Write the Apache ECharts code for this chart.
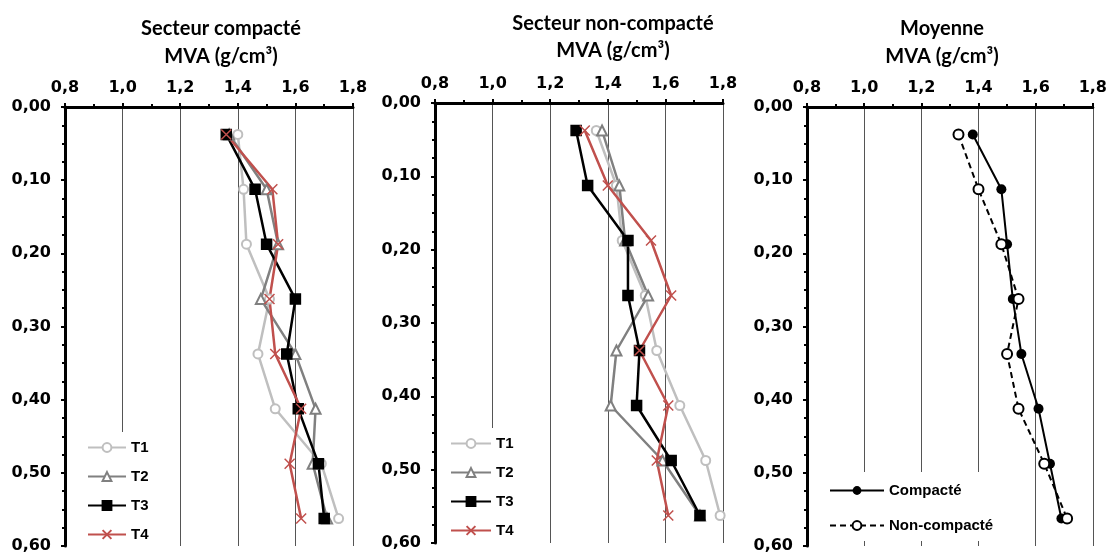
<!DOCTYPE html>
<html>
<head>
<meta charset="utf-8">
<script src="https://cdn.jsdelivr.net/npm/echarts@6/dist/echarts.min.js"></script>
<style>
  html, body { margin: 0; padding: 0; background: #fff; }
  #main { width: 1110px; height: 554px; }
</style>
</head>
<body>
<div id="main"></div>
<script>
// depth of each sample (m), middle of each 7.5 cm layer
var depths = [0.0375, 0.1125, 0.1875, 0.2625, 0.3375, 0.4125, 0.4875, 0.5625];

// Secteur compacté
var compT1 = [1.40, 1.42, 1.43, 1.51, 1.47, 1.53, 1.69, 1.75];
var compT2 = [1.37, 1.50, 1.54, 1.48, 1.60, 1.67, 1.66, 1.71];
var compT3 = [1.36, 1.46, 1.50, 1.60, 1.57, 1.61, 1.68, 1.70];
var compT4 = [1.36, 1.52, 1.54, 1.51, 1.53, 1.62, 1.58, 1.62];

// Secteur non-compacté
var noncT1 = [1.36, 1.43, 1.45, 1.53, 1.57, 1.65, 1.74, 1.79];
var noncT2 = [1.38, 1.44, 1.46, 1.54, 1.43, 1.41, 1.59, 1.72];
var noncT3 = [1.29, 1.33, 1.47, 1.47, 1.51, 1.50, 1.62, 1.72];
var noncT4 = [1.32, 1.40, 1.55, 1.62, 1.51, 1.61, 1.57, 1.61];

// Moyenne
var avgComp = [1.38, 1.48, 1.50, 1.52, 1.55, 1.61, 1.65, 1.69];
var avgNonc = [1.33, 1.40, 1.48, 1.54, 1.50, 1.54, 1.63, 1.71];

var titles = [
  ['Secteur compacté', 'MVA (g/cm³)'],
  ['Secteur non-compacté', 'MVA (g/cm³)'],
  ['Moyenne', 'MVA (g/cm³)']
];

function pairs(vals) {
  return depths.map(function (d, i) { return [vals[i], d]; });
}

var grids = [
  { left: 65, top: 107, width: 288, height: 440 },
  { left: 435, top: 103, width: 288, height: 440 },
  { left: 807, top: 107, width: 288, height: 440 }
];
var titlePos = [
  { x: 221, y1: 29, y2: 57 },
  { x: 613, y1: 24, y2: 51 },
  { x: 942, y1: 29, y2: 57 }
];

var labelFont = { fontFamily: "'DejaVu Sans', sans-serif", fontWeight: 'bold', fontSize: 16, color: '#000' };

var xAxes = grids.map(function (g, i) {
  return {
    type: 'value', gridIndex: i, position: 'top',
    min: 0.8, max: 1.8, interval: 0.2,
    axisLine: { show: true, onZero: false, lineStyle: { color: '#000', width: 3 } },
    axisTick: { show: true, length: 4, lineStyle: { color: '#000', width: 2 } },
    minorTick: { show: true, splitNumber: 2, length: 3, lineStyle: { color: '#000', width: 2 } },
    splitLine: { show: true, lineStyle: { color: '#555', width: 1 } },
    axisLabel: Object.assign({ margin: 11, formatter: function (v) { return v.toFixed(1).replace('.', ','); } }, labelFont)
  };
});

var yAxes = grids.map(function (g, i) {
  return {
    type: 'value', gridIndex: i, inverse: true,
    min: 0, max: 0.6, interval: 0.1,
    axisLine: { show: true, onZero: false, lineStyle: { color: '#000', width: 3 } },
    axisTick: { show: true, length: 4, lineStyle: { color: '#000', width: 2 } },
    minorTick: { show: true, splitNumber: 4, length: 3, lineStyle: { color: '#000', width: 2 } },
    splitLine: { show: false },
    axisLabel: Object.assign({ margin: 14, formatter: function (v) { return v.toFixed(2).replace('.', ','); } }, labelFont)
  };
});

var xMark = 'path://M0,0 L10,10 M10,0 L0,10';

function tSeries(name, vals, idx, color, symbol, size) {
  return {
    name: name, type: 'line', xAxisIndex: idx, yAxisIndex: idx,
    data: pairs(vals),
    symbol: symbol, symbolSize: size,
    lineStyle: { color: color, width: 2.5 },
    itemStyle: { color: color, borderColor: color, borderWidth: 1.5 },
    animation: false
  };
}

var series = [
  tSeries('T1', compT1, 0, '#BFBFBF', 'emptyCircle', 9),
  tSeries('T2', compT2, 0, '#808080', 'emptyTriangle', 10),
  tSeries('T3', compT3, 0, '#000000', 'rect', 10),
  tSeries('T4', compT4, 0, '#C0504D', xMark, 10),
  tSeries('T1', noncT1, 1, '#BFBFBF', 'emptyCircle', 9),
  tSeries('T2', noncT2, 1, '#808080', 'emptyTriangle', 10),
  tSeries('T3', noncT3, 1, '#000000', 'rect', 10),
  tSeries('T4', noncT4, 1, '#C0504D', xMark, 10),
  {
    name: 'Compacté', type: 'line', xAxisIndex: 2, yAxisIndex: 2,
    data: pairs(avgComp), symbol: 'circle', symbolSize: 10,
    lineStyle: { color: '#000', width: 2 },
    itemStyle: { color: '#000' }, animation: false
  },
  {
    name: 'Non-compacté', type: 'line', xAxisIndex: 2, yAxisIndex: 2,
    data: pairs(avgNonc), symbol: 'emptyCircle', symbolSize: 10,
    lineStyle: { color: '#000', width: 2, type: [6, 4] },
    itemStyle: { color: '#000' }, animation: false
  }
];

var legendText = { fontFamily: "'Liberation Sans', Arial, sans-serif", fontWeight: 'bold', fontSize: 15, lineHeight: 14, color: '#000' };

var legends = [
  {
    data: ['T1', 'T2', 'T3', 'T4'], orient: 'vertical', left: 68, top: 432, height: 120,
    padding: [8, 20, 6, 19], itemWidth: 38, itemHeight: 11, itemGap: 14,
    backgroundColor: '#fff', textStyle: legendText, selectedMode: false
  },
  {
    data: ['T1', 'T2', 'T3', 'T4'], orient: 'vertical', left: 438, top: 428, height: 120,
    padding: [8, 20, 6, 12], itemWidth: 40, itemHeight: 11, itemGap: 14,
    backgroundColor: '#fff', textStyle: legendText, selectedMode: false
  },
  {
    data: ['Compacté', 'Non-compacté'], orient: 'vertical', left: 812, top: 472, height: 80,
    padding: [11, 20, 8, 17], itemWidth: 54, itemHeight: 11, itemGap: 20,
    backgroundColor: '#fff', textStyle: legendText, selectedMode: false
  }
];

var graphics = [];
titles.forEach(function (t, i) {
  var p = titlePos[i];
  [t[0], t[1]].forEach(function (txt, k) {
    graphics.push({
      type: 'text', x: p.x, y: k === 0 ? p.y1 : p.y2,
      style: {
        text: txt, textAlign: 'center', textVerticalAlign: 'middle',
        fontFamily: 'Lato', fontWeight: 'bold', fontSize: 20, fill: '#000'
      }
    });
  });
});

var myChart = echarts.init(document.getElementById('main'), null, { renderer: 'canvas' });
var option = {
  animation: false,
  backgroundColor: '#fff',
  grid: grids,
  xAxis: xAxes,
  yAxis: yAxes,
  legend: legends,
  series: series,
  graphic: graphics
};
myChart.setOption(option);
</script>
</body>
</html>
